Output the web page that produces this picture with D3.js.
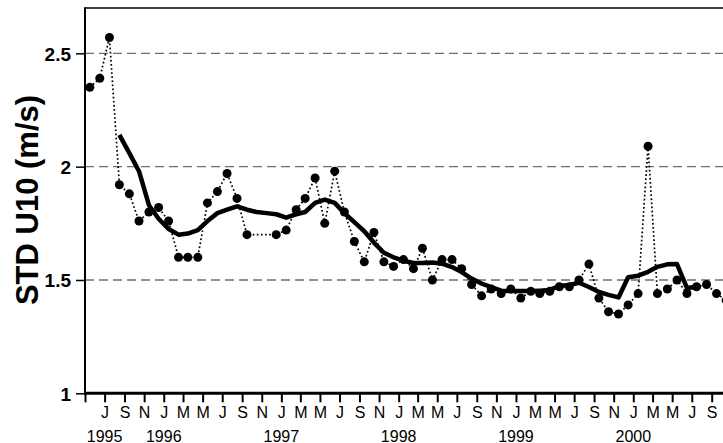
<!DOCTYPE html>
<html>
<head>
<meta charset="utf-8">
<script src="https://cdn.jsdelivr.net/npm/d3@7"></script>
<style>
  html, body { margin: 0; padding: 0; background: #fff; }
  svg { display: block; font-family: "Liberation Sans", Arial, Helvetica, sans-serif; }
</style>
</head>
<body>
<svg id="chart" width="723" height="443"></svg>
<script>
// Monthly series, May 1995 onwards
const months = [
  "1995-05","1995-06","1995-07","1995-08","1995-09","1995-10","1995-11","1995-12",
  "1996-01","1996-02","1996-03","1996-04","1996-05","1996-06","1996-07","1996-08","1996-09","1996-10","1996-11","1996-12",
  "1997-01","1997-02","1997-03","1997-04","1997-05","1997-06","1997-07","1997-08","1997-09","1997-10","1997-11","1997-12",
  "1998-01","1998-02","1998-03","1998-04","1998-05","1998-06","1998-07","1998-08","1998-09","1998-10","1998-11","1998-12",
  "1999-01","1999-02","1999-03","1999-04","1999-05","1999-06","1999-07","1999-08","1999-09","1999-10","1999-11","1999-12",
  "2000-01","2000-02","2000-03","2000-04","2000-05","2000-06","2000-07","2000-08","2000-09","2000-10"
];

// Monthly STD of U10 (m/s); null = no data
const stdU10 = [
  2.35, 2.39, 2.57, 1.92, 1.88, 1.76, 1.80, 1.82,
  1.76, 1.60, 1.60, 1.60, 1.84, 1.89, 1.97, 1.86, 1.70, null, null, 1.70,
  1.72, 1.81, 1.86, 1.95, 1.75, 1.98, 1.80, 1.67, 1.58, 1.71, 1.58, 1.56,
  1.59, 1.55, 1.64, 1.50, 1.59, 1.59, 1.55, 1.48, 1.43, 1.46, 1.44, 1.46,
  1.42, 1.45, 1.44, 1.45, 1.47, 1.47, 1.50, 1.57, 1.42, 1.36, 1.35, 1.39,
  1.44, 2.09, 1.44, 1.46, 1.50, 1.44, 1.47, 1.48, 1.44, 1.41
];

// Smoothed curve, aligned with months (null where not defined)
const smoothU10 = [
  null, null, null, 2.14, 2.06, 1.98, 1.83, 1.77,
  1.725, 1.70, 1.705, 1.72, 1.76, 1.795, 1.81, 1.825, 1.81, 1.80, 1.795, 1.79,
  1.775, 1.79, 1.80, 1.84, 1.855, 1.84, 1.795, 1.755, 1.715, 1.665, 1.62, 1.60,
  1.585, 1.575, 1.575, 1.577, 1.572, 1.557, 1.535, 1.506, 1.484, 1.469, 1.453, 1.451,
  1.451, 1.451, 1.453, 1.456, 1.473, 1.478, 1.488, 1.469, 1.447, 1.434, 1.423, 1.512,
  1.519, 1.536, 1.558, 1.569, 1.570, 1.465, 1.47, null
];

const yTicks = [1, 1.5, 2, 2.5];
const yTickLabels = ["1", "1.5", "2", "2.5"];
const gridValues = [1.5, 2, 2.5];
const monthLetters = ["J","F","M","A","M","J","J","A","S","O","N","D"];
const yearLabels = [
  { date: "1995-07", text: "1995" },
  { date: "1996-01", text: "1996" },
  { date: "1997-01", text: "1997" },
  { date: "1998-01", text: "1998" },
  { date: "1999-01", text: "1999" },
  { date: "2000-01", text: "2000" }
];

const parseMonth = d3.timeParse("%Y-%m");
const midMonth = s => { const d = parseMonth(s); return new Date(d.getFullYear(), d.getMonth(), 16); };

const svg = d3.select("#chart");
const plotLeft = 85, plotTop = 8, plotBottom = 393.3;

const x = d3.scaleTime()
  .domain([new Date(1995, 4, 1), new Date(2000, 8, 1)])
  .range([plotLeft, 711.7]);
const y = d3.scaleLinear().domain([1, 2.7]).range([plotBottom, plotTop]);

// dashed reference lines
svg.append("g").selectAll("line").data(gridValues).join("line")
  .attr("x1", plotLeft).attr("x2", 723)
  .attr("y1", d => y(d)).attr("y2", d => y(d))
  .attr("stroke", "#6e6e6e").attr("stroke-width", 1.3)
  .attr("stroke-dasharray", "9,5");

// top frame line
svg.append("line")
  .attr("x1", plotLeft).attr("x2", 723).attr("y1", plotTop).attr("y2", plotTop)
  .attr("stroke", "#000").attr("stroke-width", 1.5);

// y axis
const yAxis = d3.axisLeft(y).tickValues(yTicks)
  .tickFormat((d, i) => yTickLabels[i]).tickSize(9).tickPadding(5);
const gy = svg.append("g").attr("transform", `translate(${plotLeft},0)`).call(yAxis);
gy.select(".domain").remove();
gy.selectAll(".tick line").attr("stroke", "#000").attr("stroke-width", 1.5);
gy.selectAll(".tick text")
  .attr("fill", "#000").attr("dy", "0.36em")
  .style("font-family", "'Liberation Sans', Arial, sans-serif")
  .style("font-size", "19px").style("font-weight", "bold");
svg.append("line")
  .attr("x1", plotLeft).attr("x2", plotLeft).attr("y1", plotTop - 0.75).attr("y2", plotBottom)
  .attr("stroke", "#000").attr("stroke-width", 2);

// x axis: ticks every two months, May 1995 to Sep 2000
const xTicks = d3.timeMonth.every(2).range(new Date(1995, 4, 1), new Date(2000, 9, 1))
  .filter(d => d.getMonth() % 2 === 0);
const xAxis = d3.axisBottom(x).tickValues(xTicks)
  .tickFormat((d, i) => i === 0 ? "" : monthLetters[d.getMonth()])
  .tickSize(9).tickPadding(4);
const gx = svg.append("g").attr("transform", `translate(0,${plotBottom})`).call(xAxis);
gx.select(".domain").remove();
gx.selectAll(".tick line").attr("stroke", "#000").attr("stroke-width", 2);
gx.selectAll(".tick text")
  .attr("fill", "#000")
  .style("font-family", "'Liberation Sans', Arial, sans-serif")
  .style("font-size", "16px");
svg.append("line")
  .attr("x1", plotLeft - 1).attr("x2", 723).attr("y1", plotBottom).attr("y2", plotBottom)
  .attr("stroke", "#000").attr("stroke-width", 3);

// year labels
svg.append("g").selectAll("text").data(yearLabels).join("text")
  .attr("x", d => x(parseMonth(d.date)))
  .attr("y", 441.5)
  .attr("text-anchor", "middle")
  .attr("font-size", 16)
  .text(d => d.text);

// y axis title
svg.append("text")
  .attr("transform", "translate(38,200) rotate(-90)")
  .attr("text-anchor", "middle")
  .attr("font-size", 31).attr("font-weight", "bold")
  .text("STD U10 (m/s)");

// monthly values: dotted line + dots
const monthly = months.map((m, i) => ({ date: midMonth(m), v: stdU10[i] })).filter(d => d.v !== null);
svg.append("path").datum(monthly)
  .attr("fill", "none").attr("stroke", "#000").attr("stroke-width", 1.7)
  .attr("stroke-dasharray", "1.7,2.4")
  .attr("d", d3.line().x(d => x(d.date)).y(d => y(d.v)));
svg.append("g").selectAll("circle").data(monthly).join("circle")
  .attr("cx", d => x(d.date)).attr("cy", d => y(d.v)).attr("r", 4.5)
  .attr("fill", "#000");

// smoothed curve
const smooth = months.map((m, i) => ({ date: midMonth(m), v: smoothU10[i] })).filter(d => d.v !== null);
svg.append("path").datum(smooth)
  .attr("fill", "none").attr("stroke", "#000").attr("stroke-width", 4.5)
  .attr("stroke-linejoin", "round")
  .attr("d", d3.line().x(d => x(d.date)).y(d => y(d.v)));
</script>
</body>
</html>
